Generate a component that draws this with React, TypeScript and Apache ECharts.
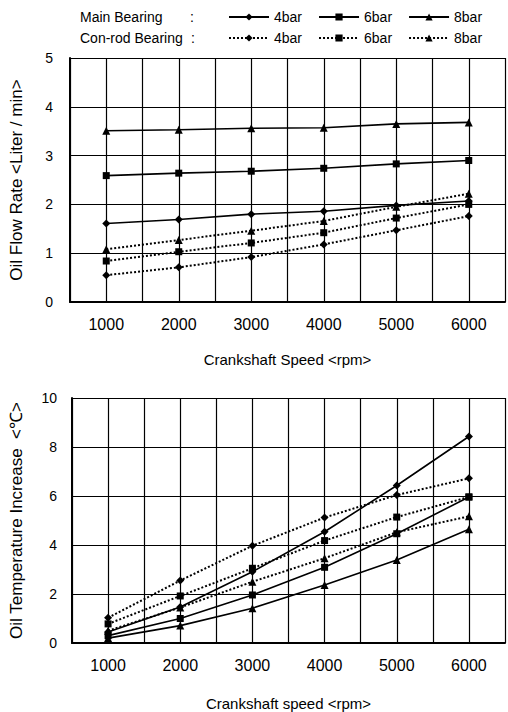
import React, { useEffect, useRef } from "react";
import * as echarts from "echarts";

const speeds = [1000, 2000, 3000, 4000, 5000, 6000];
const xTickLabels = ["1000", "2000", "3000", "4000", "5000", "6000"];

// Oil flow rate <Liter / min>
const flowMain4 = [1.61, 1.69, 1.8, 1.86, 1.98, 2.07];
const flowMain6 = [2.59, 2.64, 2.68, 2.74, 2.83, 2.9];
const flowMain8 = [3.51, 3.53, 3.56, 3.57, 3.65, 3.68];
const flowCon4 = [0.55, 0.71, 0.92, 1.18, 1.47, 1.76];
const flowCon6 = [0.84, 1.03, 1.21, 1.42, 1.72, 2.0];
const flowCon8 = [1.08, 1.27, 1.46, 1.66, 1.95, 2.22];

// Oil temperature increase <℃>
const tempMain4 = [0.45, 1.47, 2.91, 4.54, 6.43, 8.43];
const tempMain6 = [0.3, 1.0, 1.96, 3.09, 4.46, 5.96];
const tempMain8 = [0.2, 0.71, 1.42, 2.37, 3.39, 4.64];
const tempCon4 = [1.03, 2.55, 3.97, 5.12, 6.04, 6.72];
const tempCon6 = [0.78, 1.92, 3.05, 4.18, 5.14, 5.96];
const tempCon8 = [0.5, 1.45, 2.5, 3.46, 4.52, 5.17];

const FONT = "'Liberation Sans', Arial, Helvetica, sans-serif";

function mk(name: string, values: number[], symbol: string, dotted: boolean, g: number) {
  return {
    type: "line",
    name,
    xAxisIndex: g,
    yAxisIndex: g,
    data: speeds.map((s, i) => [s, values[i]]),
    symbol,
    symbolSize: symbol === "rect" ? 7 : 8,
    itemStyle: { color: "#000" },
    lineStyle: { color: "#000", width: dotted ? 2 : 1.6, type: dotted ? "dotted" : "solid" },
    emphasis: { disabled: true },
  };
}

function xAxis(g: number, name: string, gap: number) {
  return {
    type: "value",
    gridIndex: g,
    min: 500,
    max: 6500,
    interval: 500,
    name,
    nameLocation: "middle",
    nameGap: gap,
    nameTextStyle: { fontFamily: FONT, fontSize: 15, color: "#000" },
    axisLine: { show: true, onZero: false, lineStyle: { color: "#000", width: 2 } },
    axisTick: { show: false },
    axisLabel: {
      fontFamily: FONT,
      fontSize: 16,
      color: "#000",
      margin: 14,
      formatter: (v: number) => {
        const idx = speeds.indexOf(v);
        return idx >= 0 ? xTickLabels[idx] : "";
      },
    },
    splitLine: { show: true, lineStyle: { color: "#000", width: 1.2 } },
  };
}

function yAxis(g: number, name: string, max: number, interval: number, gap: number, margin: number) {
  return {
    type: "value",
    gridIndex: g,
    min: 0,
    max,
    interval,
    name,
    nameLocation: "middle",
    nameRotate: 90,
    nameGap: gap,
    nameTextStyle: { fontFamily: FONT, fontSize: 17, color: "#000" },
    axisLine: { show: true, lineStyle: { color: "#000", width: 2 } },
    axisTick: { show: false },
    axisLabel: { fontFamily: FONT, fontSize: 14, color: "#000", margin },
    splitLine: { show: true, lineStyle: { color: "#000", width: 1.2 } },
  };
}

export default function App() {
  const ref = useRef<HTMLDivElement>(null);
  useEffect(() => {
    if (!ref.current) return;
    const chart = echarts.init(ref.current, null, { renderer: "svg" });
    const legendCommon = {
      left: 228,
      itemWidth: 40,
      itemHeight: 9,
      itemGap: 16,
      padding: 0,
      selectedMode: false,
      textStyle: { fontFamily: FONT, fontSize: 14, color: "#000" },
      formatter: (n: string) => n.replace(/^\S+ /, ""),
    };
    chart.setOption({
      animation: false,
      backgroundColor: "#fff",
      grid: [
        { left: 60, top: 58, width: 447, height: 244 },
        { left: 65, top: 398, width: 443, height: 245 },
      ],
      legend: [
        { ...legendCommon, top: 10, data: ["Main 4bar", "Main 6bar", "Main 8bar"] },
        { ...legendCommon, top: 31, data: ["Con-rod 4bar", "Con-rod 6bar", "Con-rod 8bar"] },
      ],
      graphic: [
        { type: "text", left: 80, top: 10, style: { text: "Main Bearing", font: `14px ${FONT}`, fill: "#000" } },
        { type: "text", left: 190, top: 10, style: { text: ":", font: `14px ${FONT}`, fill: "#000" } },
        { type: "text", left: 80, top: 31, style: { text: "Con-rod Bearing", font: `14px ${FONT}`, fill: "#000" } },
        { type: "text", left: 191, top: 31, style: { text: ":", font: `14px ${FONT}`, fill: "#000" } },
      ],
      xAxis: [xAxis(0, "Crankshaft Speed <rpm>", 50), xAxis(1, "Crankshaft speed <rpm>", 53)],
      yAxis: [
        yAxis(0, "Oil Flow Rate <Liter / min>", 5, 1, 45, 17),
        yAxis(1, "Oil Temperature Increase  <℃>", 10, 2, 47, 15),
      ],
      series: [
        mk("Main 4bar", flowMain4, "diamond", false, 0),
        mk("Main 6bar", flowMain6, "rect", false, 0),
        mk("Main 8bar", flowMain8, "triangle", false, 0),
        mk("Con-rod 4bar", flowCon4, "diamond", true, 0),
        mk("Con-rod 6bar", flowCon6, "rect", true, 0),
        mk("Con-rod 8bar", flowCon8, "triangle", true, 0),
        mk("Main 4bar", tempMain4, "diamond", false, 1),
        mk("Main 6bar", tempMain6, "rect", false, 1),
        mk("Main 8bar", tempMain8, "triangle", false, 1),
        mk("Con-rod 4bar", tempCon4, "diamond", true, 1),
        mk("Con-rod 6bar", tempCon6, "rect", true, 1),
        mk("Con-rod 8bar", tempCon8, "triangle", true, 1),
      ],
    });
    return () => chart.dispose();
  }, []);
  return (
    <div
      ref={ref}
      style={{ position: "fixed", left: 0, top: 0, width: 508, height: 712, background: "#fff" }}
    />
  );
}
